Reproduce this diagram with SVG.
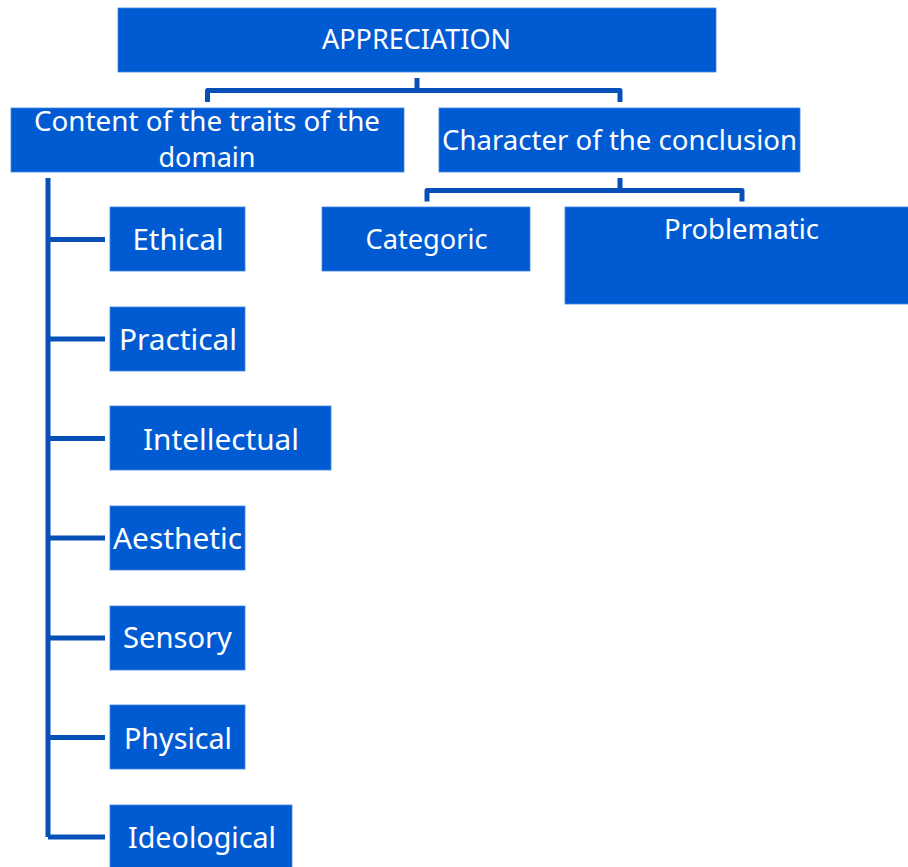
<svg xmlns="http://www.w3.org/2000/svg" width="908" height="867" viewBox="0 0 908 867">
<style>
.box{fill:#005BD3;stroke:#3F86E0;stroke-width:0.8}
.t{fill:#ffffff;font-family:"Noto Sans","Open Sans","Liberation Sans",sans-serif;text-anchor:middle}
.h{font-size:28px}
.l{font-size:29.5px}
.c{fill:none;stroke:#0650B8;stroke-width:5;stroke-linejoin:round}
</style>
<rect width="908" height="867" fill="#ffffff"/>
<g id="connectors">
<path class="c" d="M417,78 V90.5 M207.5,102 V90.5 H620 V102"/>
<path class="c" d="M620,178 V190.5 M427,201.5 V190.5 H742 V201.5"/>
<path class="c" d="M48,178 V837 M48,239.5 H105 M48,339 H105 M48,438.5 H105 M48,538 H105 M48,638 H105 M48,737.5 H105 M48,837 H105"/>
</g>
<g id="appreciation">
<rect class="box" x="118" y="8" width="598" height="64"/>
<text class="t h" x="416.5" y="49" textLength="189" lengthAdjust="spacingAndGlyphs">APPRECIATION</text>
</g>
<g id="content">
<rect class="box" x="11" y="108" width="393" height="64"/>
<text class="t h" x="207" y="131" textLength="346" lengthAdjust="spacingAndGlyphs">Content of the traits of the</text>
<text class="t h" x="207" y="167" textLength="97" lengthAdjust="spacingAndGlyphs">domain</text>
</g>
<g id="character">
<rect class="box" x="439" y="108" width="361" height="64"/>
<text class="t h" x="619.5" y="150" textLength="355" lengthAdjust="spacingAndGlyphs">Character of the conclusion</text>
</g>
<g id="categoric">
<rect class="box" x="322" y="207" width="208" height="64"/>
<text class="t h" x="426.5" y="249" textLength="122" lengthAdjust="spacingAndGlyphs">Categoric</text>
</g>
<g id="problematic">
<rect class="box" x="565" y="207" width="345" height="97"/>
<text class="t h" x="741.5" y="239" textLength="155" lengthAdjust="spacingAndGlyphs">Problematic</text>
</g>
<g id="ethical">
<rect class="box" x="110" y="207" width="135" height="64"/>
<text class="t l" x="178" y="250" textLength="91" lengthAdjust="spacingAndGlyphs">Ethical</text>
</g>
<g id="practical">
<rect class="box" x="110" y="307" width="135" height="64"/>
<text class="t l" x="178" y="350" textLength="118" lengthAdjust="spacingAndGlyphs">Practical</text>
</g>
<g id="intellectual">
<rect class="box" x="110" y="406" width="221" height="64"/>
<text class="t l" x="221" y="450" textLength="156" lengthAdjust="spacingAndGlyphs">Intellectual</text>
</g>
<g id="aesthetic">
<rect class="box" x="110" y="506" width="135" height="64"/>
<text class="t l" x="177.5" y="549" textLength="129" lengthAdjust="spacingAndGlyphs">Aesthetic</text>
</g>
<g id="sensory">
<rect class="box" x="110" y="606" width="135" height="64"/>
<text class="t l" x="177.5" y="648" textLength="109" lengthAdjust="spacingAndGlyphs">Sensory</text>
</g>
<g id="physical">
<rect class="box" x="110" y="705" width="135" height="64"/>
<text class="t l" x="178" y="749" textLength="108" lengthAdjust="spacingAndGlyphs">Physical</text>
</g>
<g id="ideological">
<rect class="box" x="110" y="805" width="182" height="64"/>
<text class="t l" x="202" y="848" textLength="148" lengthAdjust="spacingAndGlyphs">Ideological</text>
</g>
</svg>
